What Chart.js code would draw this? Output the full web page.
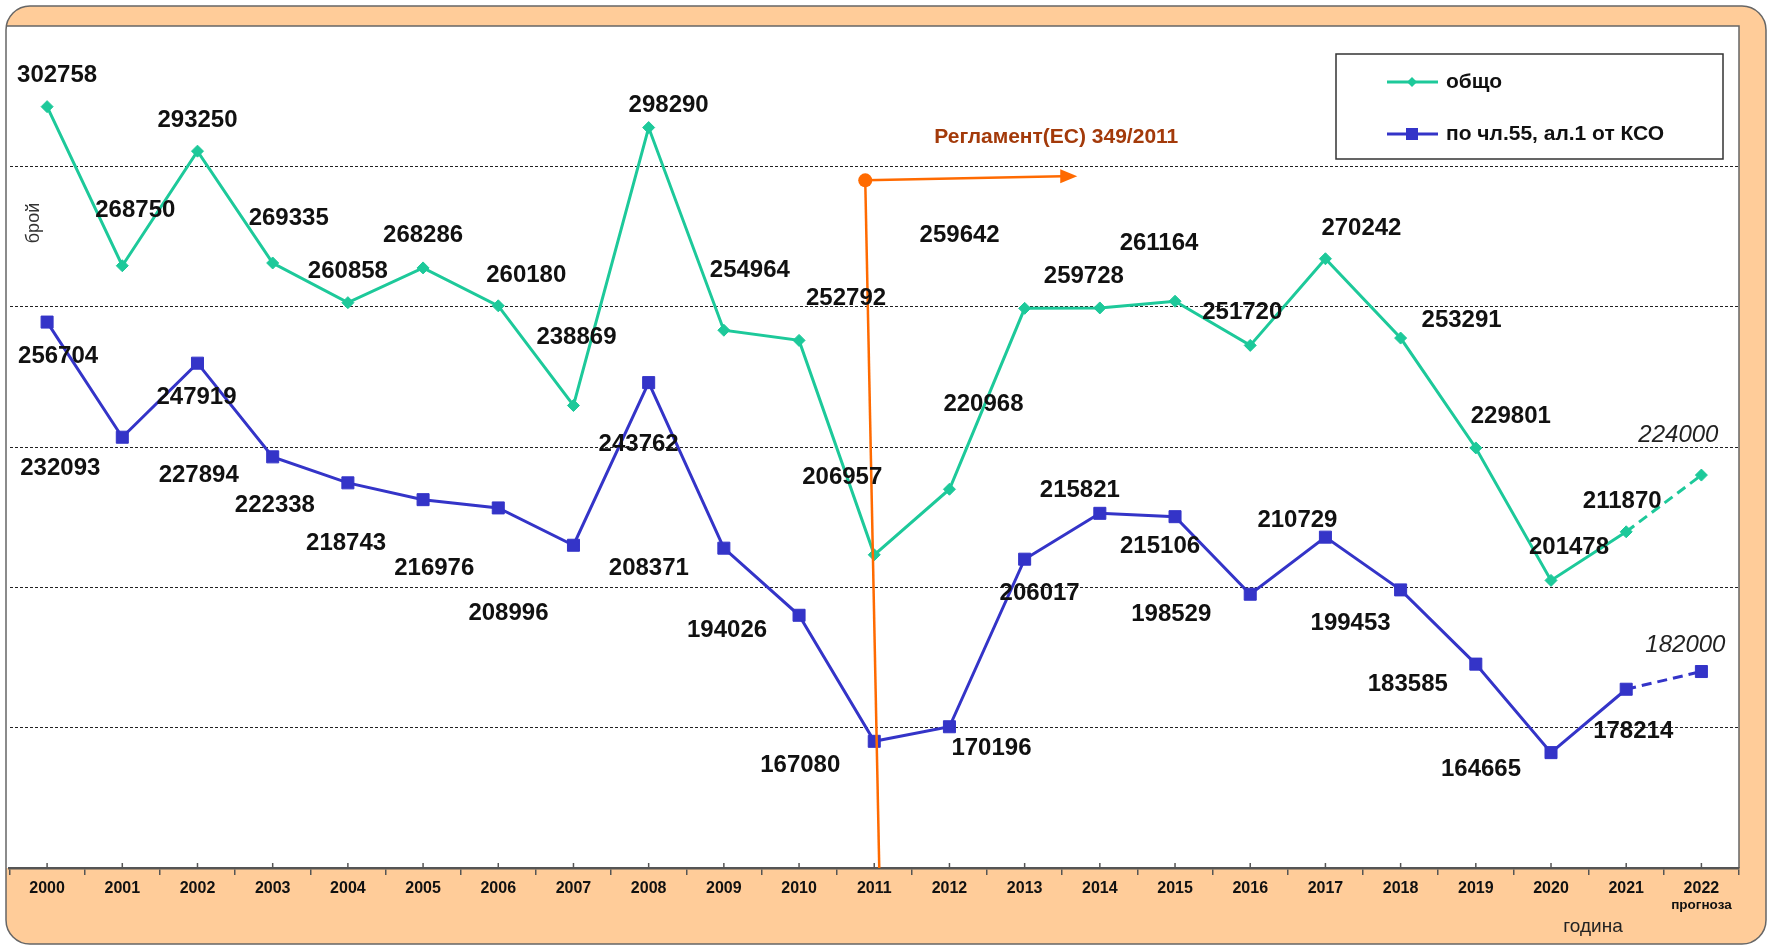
<!DOCTYPE html>
<html>
<head>
<meta charset="utf-8">
<script src="https://cdn.jsdelivr.net/npm/chart.js@4.4.0/dist/chart.umd.min.js"></script>
<style>
  html, body { margin: 0; padding: 0; background: #fff; }
  canvas { display: block; }
</style>
</head>
<body>
<canvas id="crimeChart" width="1772" height="948"></canvas>
<script>
var years = ['2000', '2001', '2002', '2003', '2004', '2005', '2006', '2007', '2008', '2009', '2010', '2011',
             '2012', '2013', '2014', '2015', '2016', '2017', '2018', '2019', '2020', '2021', '2022'];
var totalCounts = [302758, 268750, 293250, 269335, 260858, 268286, 260180, 238869, 298290, 254964, 252792, 206957,
                   220968, 259642, 259728, 261164, 251720, 270242, 253291, 229801, 201478, 211870, 224000];
var art55Counts = [256704, 232093, 247919, 227894, 222338, 218743, 216976, 208996, 243762, 208371, 194026, 167080,
                   170196, 206017, 215821, 215106, 198529, 210729, 199453, 183585, 164665, 178214, 182000];
var seriesNames = ['общо', 'по чл.55, ал.1 от КСО'];
var yMin = 140000, yMax = 320000, yStep = 30000;
var forecastYear = '2022';
var forecastNote = 'прогноза';
var regulationYear = '2011';
var regulationText = 'Регламент(ЕС) 349/2011';
var yTitle = 'брой';
var xTitle = 'година';

// where each value label sits, in px from its point (Excel put them by hand)
var totalLabelShift = [[10,-31],[13,-55],[0,-31],[16,-45],[0,-31],[0,-33],[28,-30],[3,-68],[20,-22],[26,-60],[47,-42],[-32,-77],
                       [34,-85],[-65,-73],[-16,-32],[-16,-58],[-8,-33],[36,-30],[61,-18],[35,-32],[18,-33],[-4,-30],[-23,-40]];
var art55LabelShift = [[11,34],[-62,31],[-1,34],[-74,19],[-73,23],[-77,44],[-64,60],[-65,68],[-10,62],[-75,20],[-72,15],[-74,24],
                       [42,22],[15,34],[-20,-23],[-15,30],[-79,20],[-28,-17],[-50,33],[-68,20],[-70,17],[7,42],[-16,-26]];

var green = '#1DC99A';
var blue = '#3434C8';
var peach = '#FFCC99';
var arial = '"Liberation Sans", Arial, sans-serif';
var lastIdx = years.indexOf(forecastYear);

var frame = {
    id: 'frame',
    beforeDraw: function (chart) {
        var ctx = chart.ctx, a = chart.chartArea;
        ctx.save();
        ctx.fillStyle = '#fff';
        ctx.fillRect(0, 0, chart.width, chart.height);
        ctx.beginPath();
        ctx.roundRect(6, 6, chart.width - 12, chart.height - 10, 24);
        ctx.fillStyle = peach;
        ctx.fill();
        ctx.save();
        ctx.clip();
        ctx.fillStyle = '#fff';
        ctx.fillRect(0, a.top, a.right, a.bottom - a.top);
        ctx.restore();
        ctx.strokeStyle = '#666';
        ctx.lineWidth = 1.5;
        ctx.stroke();
        ctx.beginPath();
        ctx.moveTo(6, a.top);
        ctx.lineTo(a.right, a.top);
        ctx.lineTo(a.right, a.bottom);
        ctx.stroke();
        ctx.restore();
    }
};

var decorations = {
    id: 'decorations',
    afterDatasetsDraw: function (chart) {
        var ctx = chart.ctx, a = chart.chartArea;
        var xs = chart.scales.x, ys = chart.scales.y;
        ctx.save();

        // small ticks above the axis at each year
        ctx.strokeStyle = '#555';
        ctx.lineWidth = 1.5;
        years.forEach(function (y, i) {
            var px = xs.getPixelForValue(i);
            ctx.beginPath();
            ctx.moveTo(px, a.bottom - 5);
            ctx.lineTo(px, a.bottom);
            ctx.stroke();
        });

        // regulation marker
        var rx = xs.getPixelForValue(years.indexOf(regulationYear));
        var top = ys.getPixelForValue(287000);
        ctx.strokeStyle = '#FF6A00';
        ctx.fillStyle = '#FF6A00';
        ctx.lineWidth = 2.5;
        ctx.beginPath();
        ctx.moveTo(rx - 9, top);
        ctx.lineTo(rx + 5, a.bottom);
        ctx.stroke();
        ctx.beginPath();
        ctx.moveTo(rx - 9, top);
        ctx.lineTo(rx + 188, top - 4);
        ctx.stroke();
        ctx.beginPath();
        ctx.moveTo(rx + 203, top - 4);
        ctx.lineTo(rx + 186, top - 11);
        ctx.lineTo(rx + 186, top + 3);
        ctx.closePath();
        ctx.fill();
        ctx.beginPath();
        ctx.arc(rx - 9, top, 7, 0, Math.PI * 2);
        ctx.fill();
        ctx.fillStyle = '#A33A0A';
        ctx.font = 'bold 21px ' + arial;
        ctx.textAlign = 'left';
        ctx.textBaseline = 'middle';
        ctx.fillText(regulationText, rx + 60, top - 43);

        // value labels
        var shifts = [totalLabelShift, art55LabelShift];
        ctx.textAlign = 'center';
        ctx.textBaseline = 'middle';
        chart.data.datasets.forEach(function (ds, di) {
            var meta = chart.getDatasetMeta(di);
            meta.data.forEach(function (pt, i) {
                var fc = i === lastIdx;
                ctx.font = (fc ? 'italic 24px ' : 'bold 24px ') + arial;
                ctx.fillStyle = fc ? '#222' : '#111';
                ctx.fillText(String(ds.data[i]), pt.x + shifts[di][i][0], pt.y + shifts[di][i][1]);
            });
        });

        // legend box
        var bx = 1336, by = 54, bw = 387, bh = 105;
        ctx.fillStyle = '#fff';
        ctx.fillRect(bx, by, bw, bh);
        ctx.strokeStyle = '#333';
        ctx.lineWidth = 1.5;
        ctx.strokeRect(bx, by, bw, bh);
        [[green, 'rectRot', 28], [blue, 'rect', 80]].forEach(function (e, i) {
            var ly = by + e[2];
            ctx.strokeStyle = e[0];
            ctx.fillStyle = e[0];
            ctx.lineWidth = 3;
            ctx.beginPath();
            ctx.moveTo(bx + 51, ly);
            ctx.lineTo(bx + 102, ly);
            ctx.stroke();
            var cx = bx + 76;
            ctx.beginPath();
            if (e[1] === 'rect') {
                ctx.rect(cx - 6, ly - 6, 12, 12);
            } else {
                ctx.moveTo(cx - 5, ly); ctx.lineTo(cx, ly - 5); ctx.lineTo(cx + 5, ly); ctx.lineTo(cx, ly + 5);
                ctx.closePath();
            }
            ctx.fill();
            ctx.fillStyle = '#111';
            ctx.font = 'bold 21px ' + arial;
            ctx.textAlign = 'left';
            ctx.fillText(seriesNames[i], bx + 110, ly);
        });

        // axis texts
        ctx.fillStyle = '#333';
        ctx.font = '18px ' + arial;
        ctx.save();
        ctx.translate(34, 223);
        ctx.rotate(-Math.PI / 2);
        ctx.textAlign = 'center';
        ctx.fillText(yTitle, 0, 0);
        ctx.restore();

        ctx.fillStyle = '#222';
        ctx.font = '19px ' + arial;
        ctx.textAlign = 'center';
        ctx.fillText(xTitle, 1593, 927);

        ctx.fillStyle = '#111';
        ctx.font = 'bold 13.5px ' + arial;
        ctx.fillText(forecastNote, xs.getPixelForValue(lastIdx), 905);

        ctx.restore();
    }
};

function forecastDash(c) {
    return c.p1DataIndex === lastIdx ? [10, 6] : undefined;
}

new Chart(document.getElementById('crimeChart').getContext('2d'), {
    type: 'line',
    data: {
        labels: years,
        datasets: [{
            label: seriesNames[0],
            data: totalCounts,
            borderColor: green,
            backgroundColor: green,
            borderWidth: 3,
            pointStyle: 'rectRot',
            pointRadius: 6,
            pointBorderWidth: 1,
            tension: 0,
            segment: { borderDash: forecastDash }
        }, {
            label: seriesNames[1],
            data: art55Counts,
            borderColor: blue,
            backgroundColor: blue,
            borderWidth: 3,
            pointStyle: 'rect',
            pointRadius: 8.5,
            pointBorderWidth: 1,
            tension: 0,
            segment: { borderDash: forecastDash }
        }]
    },
    options: {
        responsive: false,
        animation: false,
        devicePixelRatio: 1,
        layout: { padding: { left: 7, right: 33, top: 26, bottom: 0 } },
        plugins: { legend: { display: false }, tooltip: { enabled: false } },
        scales: {
            x: {
                offset: true,
                afterFit: function (s) { s.height = 80; },
                grid: { offset: true, drawOnChartArea: false, drawTicks: true, tickLength: 7, color: '#555', lineWidth: 1.5 },
                border: { display: true, color: '#555', width: 2.5 },
                ticks: { font: { family: arial, size: 16, weight: 'bold' }, color: '#111', padding: 4, maxRotation: 0, autoSkip: false }
            },
            y: {
                min: yMin,
                max: yMax,
                afterFit: function (s) { s.width = 0; },
                ticks: { display: false, stepSize: yStep },
                grid: {
                    drawTicks: false,
                    lineWidth: 1,
                    color: function (c) {
                        return (c.tick && (c.tick.value === yMin || c.tick.value === yMax)) ? 'rgba(0,0,0,0)' : '#222';
                    }
                },
                border: { display: false, dash: [3, 2] }
            }
        }
    },
    plugins: [frame, decorations]
});
</script>
</body>
</html>
